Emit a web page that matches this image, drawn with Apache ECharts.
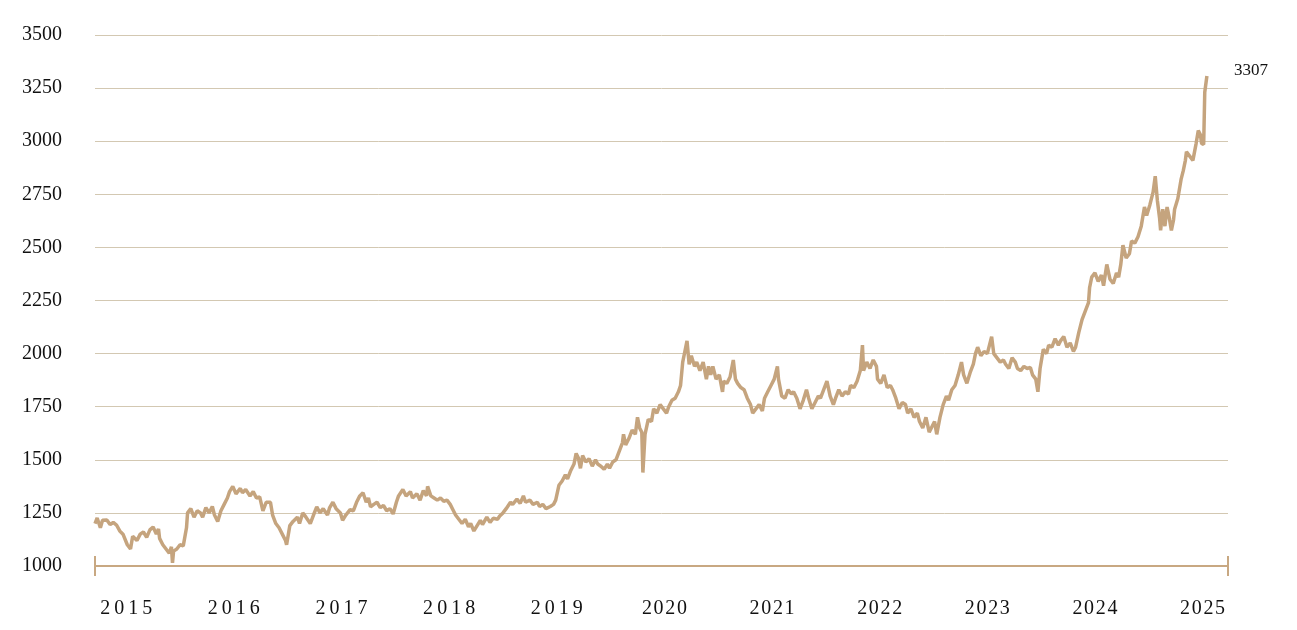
<!DOCTYPE html>
<html lang="en">
<head>
  <meta charset="UTF-8">
  <title>Gold price 2015-2025</title>
  <style>
    html, body { margin: 0; padding: 0; background: #fff; }
    #main { width: 1297px; height: 630px; }
  </style>
</head>
<body>
<div id="main"></div>
<script src="https://cdn.jsdelivr.net/npm/echarts@6.0.0/dist/echarts.min.js"></script>
<script>
// time in decimal years (label year N sits at N), price per ounce
var dates = [
  2014.71, 2014.73, 2014.76, 2014.78, 2014.82, 2014.85, 2014.88, 2014.91, 2014.94, 2014.97,
  2015.01, 2015.04, 2015.06, 2015.10, 2015.13, 2015.16, 2015.19, 2015.22, 2015.25, 2015.28,
  2015.30, 2015.31, 2015.34, 2015.37, 2015.40, 2015.42, 2015.43, 2015.44, 2015.47, 2015.50,
  2015.53, 2015.56, 2015.57, 2015.60, 2015.63, 2015.66, 2015.69, 2015.71, 2015.74, 2015.77,
  2015.80, 2015.82, 2015.85, 2015.88, 2015.91, 2015.94, 2015.96, 2015.99, 2016.02, 2016.06,
  2016.08, 2016.11, 2016.15, 2016.18, 2016.21, 2016.24, 2016.27, 2016.30, 2016.34, 2016.36,
  2016.39, 2016.42, 2016.45, 2016.48, 2016.49, 2016.52, 2016.55, 2016.59, 2016.61, 2016.64,
  2016.67, 2016.71, 2016.74, 2016.77, 2016.80, 2016.83, 2016.87, 2016.89, 2016.92, 2016.95,
  2016.99, 2017.01, 2017.04, 2017.08, 2017.11, 2017.14, 2017.17, 2017.20, 2017.23, 2017.25,
  2017.27, 2017.30, 2017.33, 2017.36, 2017.39, 2017.42, 2017.45, 2017.48, 2017.51, 2017.53,
  2017.57, 2017.60, 2017.64, 2017.66, 2017.70, 2017.73, 2017.76, 2017.79, 2017.80, 2017.83,
  2017.86, 2017.89, 2017.92, 2017.95, 2017.98, 2018.01, 2018.04, 2018.06, 2018.09, 2018.12,
  2018.15, 2018.18, 2018.20, 2018.23, 2018.26, 2018.29, 2018.31, 2018.35, 2018.38, 2018.41,
  2018.45, 2018.47, 2018.50, 2018.53, 2018.57, 2018.59, 2018.63, 2018.66, 2018.69, 2018.71,
  2018.75, 2018.78, 2018.82, 2018.84, 2018.87, 2018.90, 2018.94, 2018.97, 2018.99, 2019.02,
  2019.05, 2019.08, 2019.10, 2019.13, 2019.16, 2019.18, 2019.20, 2019.22, 2019.24, 2019.27,
  2019.30, 2019.33, 2019.36, 2019.38, 2019.41, 2019.44, 2019.47, 2019.49, 2019.52, 2019.55,
  2019.58, 2019.61, 2019.62, 2019.64, 2019.67, 2019.70, 2019.73, 2019.75, 2019.77, 2019.79,
  2019.80, 2019.82, 2019.85, 2019.88, 2019.90, 2019.93, 2019.96, 2019.99, 2020.02, 2020.04,
  2020.07, 2020.10, 2020.13, 2020.15, 2020.17, 2020.19, 2020.21, 2020.23, 2020.25, 2020.28,
  2020.30, 2020.33, 2020.36, 2020.39, 2020.41, 2020.43, 2020.45, 2020.48, 2020.51, 2020.54,
  2020.55, 2020.58, 2020.61, 2020.64, 2020.66, 2020.68, 2020.71, 2020.74, 2020.77, 2020.80,
  2020.82, 2020.85, 2020.88, 2020.91, 2020.93, 2020.96, 2020.99, 2021.02, 2021.05, 2021.06,
  2021.09, 2021.12, 2021.15, 2021.18, 2021.20, 2021.23, 2021.26, 2021.29, 2021.32, 2021.34,
  2021.37, 2021.40, 2021.43, 2021.45, 2021.48, 2021.51, 2021.54, 2021.57, 2021.59, 2021.62,
  2021.65, 2021.68, 2021.71, 2021.73, 2021.76, 2021.79, 2021.82, 2021.84, 2021.85, 2021.88,
  2021.91, 2021.94, 2021.97, 2021.98, 2022.01, 2022.04, 2022.07, 2022.10, 2022.12, 2022.15,
  2022.18, 2022.21, 2022.24, 2022.26, 2022.29, 2022.32, 2022.35, 2022.37, 2022.40, 2022.43,
  2022.46, 2022.49, 2022.51, 2022.53, 2022.56, 2022.59, 2022.62, 2022.64, 2022.67, 2022.70,
  2022.73, 2022.76, 2022.78, 2022.81, 2022.84, 2022.87, 2022.89, 2022.91, 2022.94, 2022.97,
  2023.00, 2023.02, 2023.04, 2023.06, 2023.09, 2023.12, 2023.15, 2023.17, 2023.20, 2023.23,
  2023.26, 2023.28, 2023.31, 2023.34, 2023.37, 2023.40, 2023.42, 2023.45, 2023.47, 2023.49,
  2023.52, 2023.55, 2023.57, 2023.60, 2023.63, 2023.66, 2023.68, 2023.71, 2023.74, 2023.77,
  2023.80, 2023.82, 2023.85, 2023.88, 2023.91, 2023.94, 2023.95, 2023.97, 2024.00, 2024.03,
  2024.06, 2024.08, 2024.11, 2024.14, 2024.17, 2024.20, 2024.22, 2024.24, 2024.26, 2024.29,
  2024.32, 2024.34, 2024.37, 2024.40, 2024.43, 2024.46, 2024.48, 2024.51, 2024.54, 2024.56,
  2024.58, 2024.60, 2024.61, 2024.63, 2024.65, 2024.67, 2024.69, 2024.71, 2024.73, 2024.74,
  2024.77, 2024.80, 2024.82, 2024.84, 2024.85, 2024.88, 2024.91, 2024.94, 2024.96, 2024.98,
  2024.99, 2025.01, 2025.02, 2025.04
];
var prices = [
  1200, 1226, 1180, 1215, 1217, 1195, 1205, 1193, 1165, 1150,
  1100, 1080, 1140, 1120, 1150, 1160, 1135, 1170, 1184, 1150,
  1175, 1130, 1100, 1080, 1060, 1090, 1015, 1070, 1080, 1100,
  1095, 1180, 1250, 1270, 1230, 1260, 1250, 1230, 1275, 1250,
  1280, 1240, 1210, 1260, 1290, 1320, 1350, 1375, 1340, 1365,
  1345, 1360, 1330, 1350, 1320, 1325, 1260, 1300, 1300, 1240,
  1200, 1180, 1150, 1120, 1100, 1190, 1210, 1230, 1200, 1250,
  1230, 1200, 1240, 1278, 1250, 1270, 1240, 1275, 1300, 1270,
  1250, 1215, 1240, 1265, 1260, 1300, 1330, 1345, 1300, 1320,
  1278, 1290, 1300, 1275, 1285, 1260, 1270, 1245, 1300, 1330,
  1360, 1330, 1350, 1320, 1340, 1310, 1355, 1330, 1375, 1330,
  1320, 1310, 1320, 1305, 1310, 1290, 1260, 1240, 1220, 1200,
  1220, 1185, 1200, 1165, 1190, 1215, 1195, 1230, 1205, 1225,
  1220, 1235, 1250, 1270, 1300, 1290, 1315, 1295, 1330, 1300,
  1310, 1290, 1300, 1280, 1290, 1270, 1280, 1290, 1310, 1380,
  1400, 1430, 1410, 1450, 1480, 1530, 1510, 1460, 1520, 1490,
  1505, 1470, 1500, 1480, 1470, 1455, 1480, 1460, 1490, 1500,
  1540, 1580, 1620, 1570, 1600, 1640, 1620, 1700, 1650, 1630,
  1440, 1620, 1690, 1680, 1740, 1720, 1760, 1740, 1720, 1750,
  1780, 1790, 1820, 1850, 1960, 2010, 2060, 1950, 1990, 1940,
  1960, 1920, 1960, 1880, 1940, 1900, 1940, 1880, 1900, 1820,
  1870, 1860, 1890, 1970, 1880, 1860, 1840, 1830, 1790, 1760,
  1720, 1740, 1760, 1730, 1790, 1820, 1850, 1880, 1940, 1880,
  1800, 1790, 1830, 1810, 1820, 1790, 1740, 1780, 1830, 1790,
  1740, 1770, 1800, 1790, 1830, 1870, 1800, 1760, 1790, 1830,
  1800, 1820, 1810, 1850, 1840, 1870, 1920, 2040, 1920, 1960,
  1930, 1970, 1940, 1880, 1860, 1900, 1840, 1850, 1830, 1790,
  1740, 1770, 1760, 1720, 1740, 1700, 1720, 1680, 1650, 1700,
  1630, 1660, 1680, 1620, 1700, 1760, 1800, 1780, 1830, 1850,
  1900, 1960, 1900, 1860, 1910, 1950, 2000, 2030, 1990, 2010,
  2000, 2040, 2080, 2000, 1980, 1960, 1970, 1950, 1930, 1980,
  1960, 1930, 1920, 1940, 1930, 1935, 1900, 1880, 1820, 1930,
  2020, 2000, 2040, 2030, 2070, 2040, 2060, 2080, 2030, 2050,
  2010, 2030, 2100, 2160, 2200, 2240, 2310, 2360, 2380, 2340,
  2370, 2320, 2420, 2350, 2330, 2380, 2360, 2420, 2510, 2450,
  2470, 2530, 2520, 2550, 2600, 2690, 2650, 2700, 2760, 2835,
  2720, 2640, 2580, 2680, 2600, 2690, 2640, 2580, 2630, 2680,
  2730, 2820, 2860, 2910, 2950, 2930, 2910, 2990, 3050, 3030,
  2990, 2985, 3230, 3307
];
var yearLabels = [2015, 2016, 2017, 2018, 2019, 2020, 2021, 2022, 2023, 2024, 2025];
var axisEnds = [2014.71, 2025.236];

var lineColor = '#c5a47e';
var serif = "'Liberation Serif', 'Times New Roman', serif";

var chart = echarts.init(document.getElementById('main'));

var option = {
  animation: false,
  backgroundColor: '#ffffff',
  grid: { left: 95, right: 69, top: 35, bottom: 64, outerBoundsMode: 'none' },
  xAxis: [
    {
      type: 'value',
      min: axisEnds[0],
      max: axisEnds[1],
      splitLine: { show: false },
      axisLine: { show: true, onZero: false, lineStyle: { color: '#c8a882', width: 2 } },
      axisTick: { show: true, length: 10, customValues: axisEnds,
                  lineStyle: { color: '#c8a882', width: 2 } },
      axisLabel: {
        customValues: yearLabels,
        margin: 33,
        color: '#111',
        fontFamily: serif,
        fontSize: 20,
        formatter: function (v) {
          // the early labels are spaced out more than the later ones
          var gap = v < 2020 ? '\u2009' : '\u200A';
          return String(v).split('').join(gap);
        }
      }
    },
    {
      type: 'value',
      min: axisEnds[0],
      max: axisEnds[1],
      position: 'bottom',
      splitLine: { show: false },
      axisLine: { show: false, onZero: false },
      axisLabel: { show: false },
      axisTick: { show: true, inside: true, length: 10, customValues: axisEnds,
                  lineStyle: { color: '#c8a882', width: 2 } }
    }
  ],
  yAxis: {
    type: 'value',
    min: 1000,
    max: 3500,
    interval: 250,
    axisLine: { show: false },
    axisTick: { show: false },
    splitLine: { lineStyle: { color: '#d3c8b2', width: 1 } },
    axisLabel: {
      margin: 33, color: '#111', fontFamily: serif, fontSize: 20,
      formatter: function (v) { return String(v); }
    }
  },
  series: [{
    type: 'line',
    data: dates.map(function (t, i) { return [t, prices[i]]; }),
    showSymbol: false,
    symbol: 'none',
    sampling: null,
    lineStyle: { color: lineColor, width: 3.5 },
    endLabel: {
      show: true,
      formatter: function (p) { return String(p.value[1]); },
      color: '#111',
      fontFamily: serif,
      fontSize: 17,
      offset: [19, -5]
    }
  }]
};

chart.setOption(option);
</script>
</body>
</html>
